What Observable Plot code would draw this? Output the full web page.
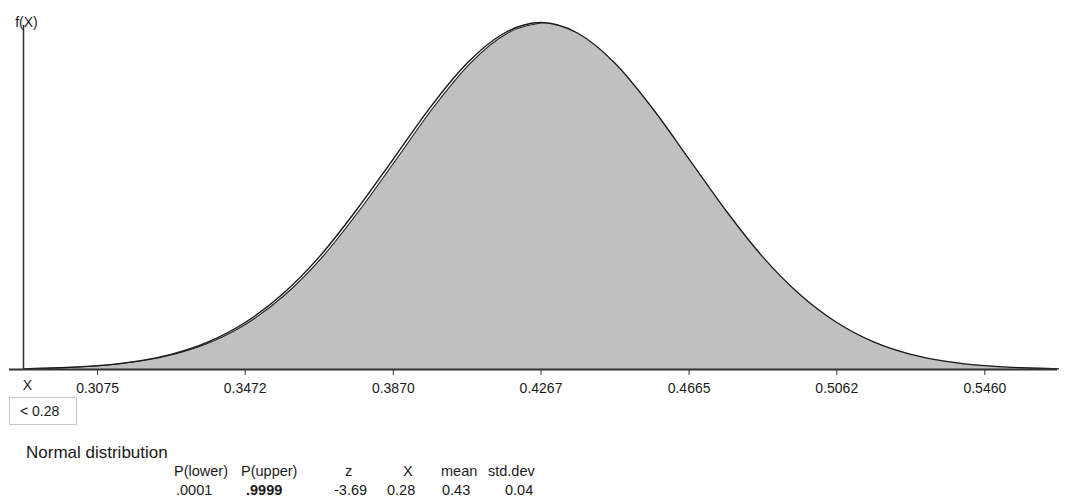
<!DOCTYPE html>
<html>
<head>
<meta charset="utf-8">
<script src="https://cdn.jsdelivr.net/npm/d3@7"></script>
<script src="https://cdn.jsdelivr.net/npm/@observablehq/plot@0.6"></script>
<style>
  body { margin: 0; background: #fff; font-family: "Liberation Sans", Arial, sans-serif; color: #1a1a1a; }
  #wrap { position: relative; width: 1065px; height: 499px; overflow: hidden; }
  #chart { position: absolute; left: 0; top: 0; }
  .abs { position: absolute; white-space: nowrap; }
  #xbox { left: 9px; top: 397px; height: 26px; border: 1px solid #c8c8c8; font-size: 14px; line-height: 26px; padding-left: 10px; box-sizing: content-box; width: 56px; }
  #title { left: 26px; top: 443px; font-size: 17px; line-height: 20px; }
  .row { font-size: 14.5px; line-height: 16px; }
</style>
</head>
<body>
<div id="wrap">
  <div id="chart"></div>
</div>
<script>
// ---- data ----
const xs = [0.2876,0.2975,0.3075,0.3174,0.3273,0.3373,0.3472,0.3571,0.3671,0.3770,0.3870,0.3969,0.4068,0.4168,0.4267,0.4366,0.4466,0.4565,0.4665,0.4764,0.4863,0.4963,0.5062,0.5161,0.5261,0.5360,0.5460,0.5559,0.5658];
const fx = [0.02,0.05,0.11,0.23,0.44,0.80,1.36,2.17,3.26,4.60,6.09,7.58,8.86,9.73,10.04,9.73,8.86,7.58,6.09,4.60,3.26,2.17,1.36,0.80,0.44,0.23,0.11,0.05,0.02];
const tickValues = [0.3075,0.3472,0.3870,0.4267,0.4665,0.5062,0.5460];
const tickLabels = ["0.3075","0.3472","0.3870","0.4267","0.4665","0.5062","0.5460"];
const cutoff = 0.28;
const cutoffLabel = "< 0.28";
const yLabel = "f(X)";
const xLabel = "X";
const title = "Normal distribution";
const headers = ["P(lower)","P(upper)","z","X","mean","std.dev"];
const values = [".0001",".9999","-3.69","0.28","0.43","0.04"];
const peakX = 0.4267;

// ---- build ----
const data = xs.map((x, i) => ({x, y: fx[i]}));
const shaded = data.filter(d => d.x >= cutoff);
const leftFlank = data.filter(d => d.x <= peakX);
const curve = "monotone-x";

const chart = Plot.plot({
  width: 1065,
  height: 400,
  marginLeft: 23,
  marginRight: 7,
  marginTop: 22,
  marginBottom: 31,
  style: {fontFamily: "Liberation Sans, Arial, sans-serif", color: "#1a1a1a", background: "transparent"},
  x: {domain: d3.extent(xs), axis: null},
  y: {domain: [0, d3.max(fx)], axis: null},
  marks: [
    Plot.areaY(shaded, {x: "x", y: "y", fill: "#c0c0c0", curve}),
    Plot.lineY(leftFlank, {x: "x", y: "y", stroke: "white", strokeWidth: 1.6, dx: 1.8, curve}),
    Plot.lineY(leftFlank, {x: "x", y: "y", stroke: "#222", strokeWidth: 1.1, dx: 3.2, curve}),
    Plot.lineY(data, {x: "x", y: "y", stroke: "#1a1a1a", strokeWidth: 1.3, curve}),
    Plot.ruleY([0], {stroke: "#333", strokeWidth: 2, insetLeft: -14, insetRight: 1}),
    Plot.ruleX([d3.min(xs)], {stroke: "#333", strokeWidth: 1.5, insetTop: 3}),
    Plot.axisX({ticks: tickValues, tickFormat: (d, i) => tickLabels[i], tickSize: 6, tickPadding: 8, fontSize: 14, stroke: "#333", label: null}),
    Plot.text([yLabel], {frameAnchor: "top-left", dx: 3, dy: -5, fontSize: 14, textAnchor: "middle"}),
    Plot.text([xLabel], {frameAnchor: "bottom-left", dx: 4, dy: 20, fontSize: 14, textAnchor: "middle"})
  ]
});
document.getElementById("chart").appendChild(chart);

const wrap = document.getElementById("wrap");
function addText(txt, cls, styles) {
  const el = document.createElement("div");
  el.className = "abs " + cls;
  el.textContent = txt;
  Object.assign(el.style, styles || {});
  wrap.appendChild(el);
  return el;
}
addText(cutoffLabel, "", {}).id = "xbox";
addText(title, "", {}).id = "title";
const headerLeft = [174, 241, 345, 403, 441, 488];
const valueLeft = [176, 246, 334, 387, 442, 505];
headers.forEach((h, i) => addText(h, "row", {left: headerLeft[i] + "px", top: "463px"}));
values.forEach((v, i) => addText(v, "row", {left: valueLeft[i] + "px", top: "482px", fontWeight: i === 1 ? "bold" : "normal"}));
</script>
</body>
</html>
